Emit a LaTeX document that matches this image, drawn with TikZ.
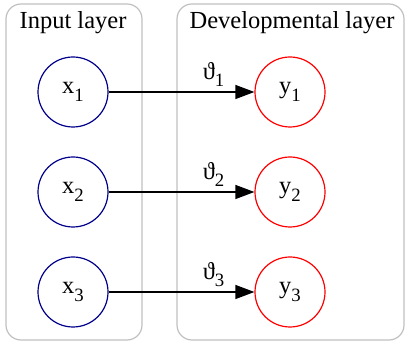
\documentclass[tikz,border=0pt]{standalone}
\usepackage{fontspec}
\setmainfont{Liberation Serif}
\usetikzlibrary{arrows.meta}
\definecolor{clustergray}{RGB}{192,192,192}
\definecolor{innavy}{RGB}{0,0,139}
\newcommand{\lowsub}[1]{\raisebox{-0.3em}{\fontsize{9.4}{11}\selectfont #1}}
\begin{document}
\begin{tikzpicture}[x=0.5pt, y=-0.5pt, font=\fontsize{12.25}{14}\selectfont,
    cluster/.style={draw=clustergray, line width=0.6pt, rounded corners=7.5pt},
    innode/.style={circle, draw=innavy, line width=0.6pt, minimum size=35pt, inner sep=0pt},
    devnode/.style={circle, draw=red, line width=0.6pt, minimum size=35pt, inner sep=0pt},
    weight/.style={-{Triangle[length=9.5pt, width=7pt]}, line width=0.6pt}]
    \useasboundingbox (0,0) rectangle (406,346);
    % clusters
    \draw[cluster] (6,4) rectangle (142,340);
    \draw[cluster] (177,4) rectangle (404,340);
    \node (inlabel) at (73,23) {Input layer};
    \node (devlabel) at (292,23) {Developmental layer};
    % input nodes
    \node[innode] (x1) at (73,92) {x\lowsub{1}};
    \node[innode] (x2) at (73,192) {x\lowsub{2}};
    \node[innode] (x3) at (73,292) {x\lowsub{3}};
    % developmental nodes
    \node[devnode] (y1) at (290,92) {y\lowsub{1}};
    \node[devnode] (y2) at (290,192) {y\lowsub{2}};
    \node[devnode] (y3) at (290,292) {y\lowsub{3}};
    % weights
    \draw[weight] (x1) -- node[pos=0.72, above, yshift=-1pt] {ϑ\lowsub{1}} (y1);
    \draw[weight] (x2) -- node[pos=0.72, above, yshift=-1pt] {ϑ\lowsub{2}} (y2);
    \draw[weight] (x3) -- node[pos=0.72, above, yshift=-1pt] {ϑ\lowsub{3}} (y3);
\end{tikzpicture}
\end{document}
